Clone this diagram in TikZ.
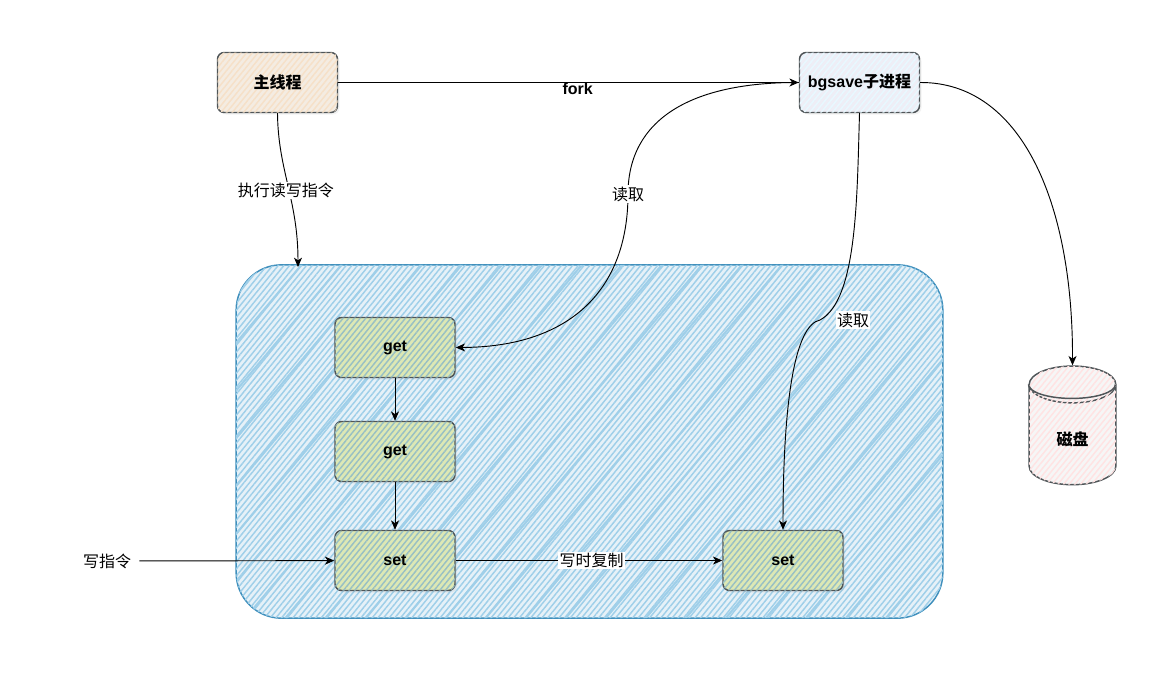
\documentclass[tikz,border=0pt]{standalone}
\usepackage{fontspec}
\setmainfont{Liberation Sans}
\newfontfamily\cjk{Noto Sans CJK SC}
\usetikzlibrary{shapes.geometric,arrows.meta,patterns.meta,shadows}
\definecolor{hatchblue}{HTML}{9FCFE9}
\definecolor{paleblue}{HTML}{E6F1F8}
\definecolor{edgeblue}{HTML}{3F8FBC}
\definecolor{edgegray}{HTML}{4F5558}
\definecolor{greenfill}{HTML}{DDE8B4}
\definecolor{greenhatch}{HTML}{98C0C4}
\definecolor{mainfill}{HTML}{F4ECE2}
\definecolor{mainhatch}{HTML}{F6E0C8}
\tikzstyle{block} = [draw=edgegray, line width=1.1pt, rounded corners=5pt, rectangle,
    minimum height=45pt, minimum width=90pt, inner sep=1pt,
    font=\bfseries\fontsize{12}{14}\selectfont, text=black,
    drop shadow={shadow xshift=1.5pt, shadow yshift=-1.5pt, opacity=0.1}]
\tikzstyle{page} = [block, fill=greenfill, postaction={hatch, pattern color=greenhatch}]
\tikzstyle{label} = [font=\fontsize{12}{14}\selectfont, text=black, inner sep=1pt]
\tikzstyle{hatch} = [pattern={Lines[angle=51,distance=3.3pt,line width=1.1pt]}]

\begin{document}
\begin{tikzpicture}[x=0.75pt, y=-0.75pt, >={Stealth[length=7pt,width=6pt,inset=2pt]},
    line width=0.7pt]

    % Page
    \useasboundingbox (0,0) rectangle (1175,672);

    % Memory area
    \node [draw=edgeblue, line width=1.1pt, fill=paleblue, rounded corners=34pt,
        minimum width=530pt, minimum height=265pt, inner sep=0pt,
        postaction={hatch, pattern color=hatchblue},
        postaction={pattern={Lines[angle=50,distance=23pt,line width=1.6pt]}, pattern color=hatchblue}]
        (memory) at (589.5,441.5) {};
    \coordinate (memtop) at (298,267);

    % Main thread and child process
    \node [block, fill=mainfill, postaction={hatch, pattern color=mainhatch}]
        (main) at (277.5,82.5) {{\cjk\bfseries 主线程}};
    \node [block, fill=blue!30!gray!10, right of=main, node distance=436.5pt,
        postaction={hatch, pattern color=blue!30!cyan!9}]
        (bgsave) {bgsave{\cjk\bfseries 子进程}};

    % Pages in memory
    \node [page] (get1) at (395,347.5) {get};
    \node [page, below of=get1, node distance=78pt] (get2) {get};
    \node [page, below of=get2, node distance=81.75pt] (set1) {set};
    \node [page, right of=set1, node distance=291pt] (set2) {set};

    % Disk
    \node [draw=edgegray, line width=1.1pt, cylinder, shape border rotate=90, aspect=0.9,
        minimum width=65pt, minimum height=89pt, fill=gray!7,
        font=\bfseries\fontsize{12}{14}\selectfont,
        postaction={hatch, pattern color=red!11}] (disk) at (1072.5,439)
        {\raisebox{-4pt}{\cjk\bfseries 磁盘}};
    \draw [draw=edgegray, line width=1.1pt] (disk.before top) arc [start angle=180,
        end angle=360, x radius=43.5, y radius=-14];

    % Write command
    \node [label, inner sep=6pt] (write) at (107,561) {{\cjk 写指令}};

    % Connecting the nodes
    \draw [->] (main) -- node [label, pos=0.52, yshift=-4.5pt] (fork) {\bfseries fork} (bgsave);
    \draw [->] (main.south) .. controls (278,170) and (298,200) .. 
        node [label, fill=white, pos=0.5, xshift=-1.5pt, yshift=-3pt] (exec) {{\cjk 执行读写指令}} (memtop);
    \draw [->] (get1) -- (get2);
    \draw [->] (get2) -- (set1);
    \draw [->] (write) -- (set1);
    \draw [->] (set1) -- node [label, fill=white, pos=0.51] (cow) {{\cjk 写时复制}} (set2);

    % Read by the child process
    \draw [->] (bgsave.west) .. controls (690,82) and (628,120) .. 
        node [label, fill=white, pos=1] (read1) {{\cjk 读取}} (628,194)
        .. controls (628,290) and (570,347) .. (get1.east);
    \draw [->] (bgsave.south) .. controls (857,200) and (857,300) .. (820,320)
        .. controls (795,325) and (783,400) .. (set2.north);
    \node [label, fill=white] (read2) at (853,320) {{\cjk 读取}};
    \draw [->] (bgsave.east) .. controls (1020,82) and (1073,200) .. (disk.top);

\end{tikzpicture}
\end{document}
